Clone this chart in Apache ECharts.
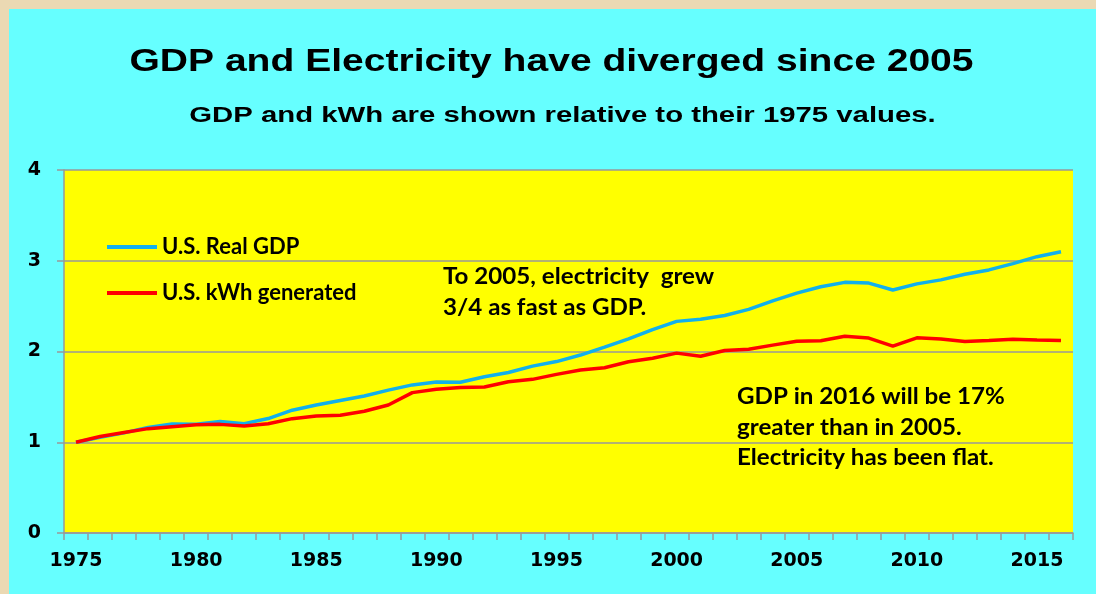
<!DOCTYPE html>
<html>
<head>
<meta charset="utf-8">
<script src="https://cdn.jsdelivr.net/npm/echarts@6/dist/echarts.min.js"></script>
<style>
  html, body { margin: 0; padding: 0; background: #EBD9B3; }
  #wrap { position: relative; width: 1096px; height: 594px; overflow: hidden; background: #EBD9B3; }
  #panel { position: absolute; left: 9px; top: 9px; width: 1087px; height: 585px; background: #66FFFF; }
  #chart { position: absolute; left: 0; top: 0; width: 1096px; height: 594px; }
</style>
</head>
<body>
<div id="wrap">
  <div id="panel"></div>
  <div id="chart"></div>
</div>
<script>
const years = [];
for (let y = 1975; y <= 2016; y++) years.push(String(y));

const gdpRelative = [1.000, 1.054, 1.103, 1.164, 1.201, 1.198, 1.229, 1.205, 1.261, 1.353,
  1.410, 1.460, 1.510, 1.574, 1.632, 1.663, 1.662, 1.721, 1.768, 1.839,
  1.889, 1.961, 2.049, 2.140, 2.241, 2.332, 2.355, 2.397, 2.464, 2.558,
  2.643, 2.714, 2.762, 2.754, 2.678, 2.745, 2.789, 2.851, 2.899, 2.968,
  3.045, 3.100];

const kwhRelative = [1.000, 1.063, 1.107, 1.150, 1.172, 1.192, 1.197, 1.178, 1.204, 1.260,
  1.288, 1.297, 1.341, 1.410, 1.547, 1.584, 1.602, 1.608, 1.667, 1.693,
  1.748, 1.796, 1.821, 1.887, 1.926, 1.982, 1.948, 2.011, 2.024, 2.070,
  2.114, 2.119, 2.167, 2.148, 2.059, 2.151, 2.138, 2.111, 2.120, 2.135,
  2.126, 2.120];

const seriesNames = ['U.S. Real GDP', 'U.S. kWh generated'];
const titleText = 'GDP and Electricity have diverged since 2005';
const subtitleText = 'GDP and kWh are shown relative to their 1975 values.';
const note1 = ['To 2005, electricity  grew', '3/4 as fast as GDP.'];
const note2 = ['GDP in 2016 will be 17%', 'greater than in 2005.', 'Electricity has been flat.'];

const chart = echarts.init(document.getElementById('chart'), null, { renderer: 'canvas' });

const annFont = { fontFamily: 'Lato', fontWeight: 'bold', fontSize: 23, fill: '#000' };
const annScale = 1.05;

const option = {
  backgroundColor: 'transparent',
  animation: false,
  grid: {
    left: 64, right: 23, top: 170, bottom: 61,
    show: true, backgroundColor: '#FFFF00', borderWidth: 0
  },
  legend: [
    {
      data: [seriesNames[0]], left: 107, top: 236, padding: 0,
      icon: 'rect', itemWidth: 50, itemHeight: 4,
      textStyle: { fontFamily: 'Lato', fontWeight: 'bold', fontSize: 22, color: '#000' }
    },
    {
      data: [seriesNames[1]], left: 107, top: 282, padding: 0,
      icon: 'rect', itemWidth: 50, itemHeight: 4,
      textStyle: { fontFamily: 'Lato', fontWeight: 'bold', fontSize: 22, color: '#000' }
    }
  ],
  xAxis: {
    type: 'category',
    data: years,
    boundaryGap: true,
    axisLine: { show: true, lineStyle: { color: '#999999', width: 1.5 } },
    axisTick: { show: true, interval: 0, length: 7, lineStyle: { color: '#999999', width: 1.5 } },
    axisLabel: {
      interval: 4, margin: 19,
      fontFamily: 'DejaVu Sans', fontWeight: 'bold', fontSize: 19, color: '#000'
    },
    splitLine: { show: false }
  },
  yAxis: {
    type: 'value',
    min: 0, max: 4, interval: 1,
    axisLine: { show: true, lineStyle: { color: '#999999', width: 1.5 } },
    axisTick: { show: true, length: 7, lineStyle: { color: '#999999', width: 1.5 } },
    axisLabel: {
      margin: 23,
      fontFamily: 'DejaVu Sans', fontWeight: 'bold', fontSize: 19, color: '#000'
    },
    splitLine: { show: true, lineStyle: { color: '#999999', width: 1.5 } }
  },
  series: [
    {
      name: seriesNames[0], type: 'line', data: gdpRelative,
      symbol: 'none', lineStyle: { color: '#12B0EC', width: 3.5 },
      itemStyle: { color: '#12B0EC' }, z: 3
    },
    {
      name: seriesNames[1], type: 'line', data: kwhRelative,
      symbol: 'none', lineStyle: { color: '#FF0000', width: 3.5 },
      itemStyle: { color: '#FF0000' }, z: 4
    }
  ],
  graphic: [
    {
      type: 'text', x: 551.5, y: 62, scaleX: 1.22,
      style: {
        text: titleText, align: 'center', verticalAlign: 'middle',
        fontFamily: 'Liberation Sans', fontWeight: 'bold', fontSize: 32, fill: '#000'
      }
    },
    {
      type: 'text', x: 562.5, y: 116, scaleX: 1.333,
      style: {
        text: subtitleText, align: 'center', verticalAlign: 'middle',
        fontFamily: 'Liberation Sans', fontWeight: 'bold', fontSize: 22, fill: '#000'
      }
    },
    { type: 'text', x: 443, y: 277, z: 10, scaleX: annScale, style: Object.assign({ text: note1[0], verticalAlign: 'middle' }, annFont) },
    { type: 'text', x: 443, y: 308, z: 10, scaleX: annScale, style: Object.assign({ text: note1[1], verticalAlign: 'middle' }, annFont) },
    { type: 'text', x: 737, y: 397, z: 10, scaleX: annScale, style: Object.assign({ text: note2[0], verticalAlign: 'middle' }, annFont) },
    { type: 'text', x: 737, y: 428, z: 10, scaleX: annScale, style: Object.assign({ text: note2[1], verticalAlign: 'middle' }, annFont) },
    { type: 'text', x: 737, y: 458, z: 10, scaleX: annScale, style: Object.assign({ text: note2[2], verticalAlign: 'middle' }, annFont) }
  ]
};
chart.setOption(option);
</script>
</body>
</html>
